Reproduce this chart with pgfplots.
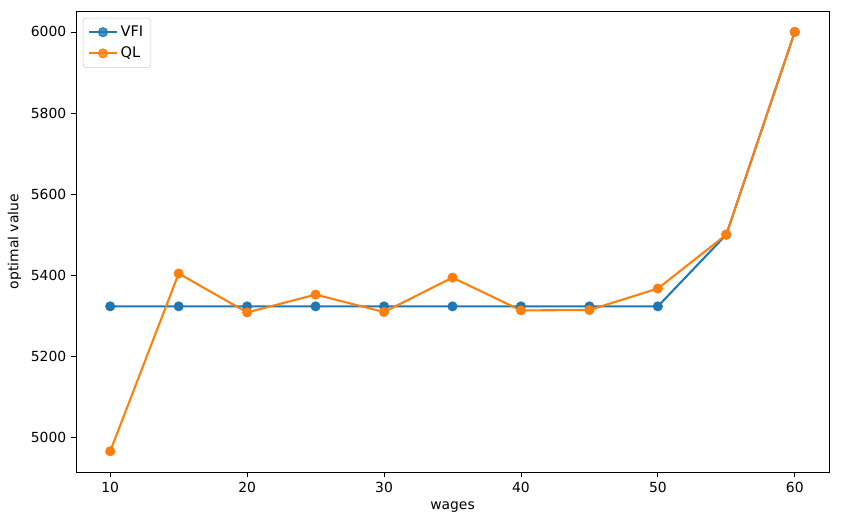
\documentclass[border=0pt]{standalone}
\usepackage{fontspec}
\setmainfont{DejaVu Sans}
\usepackage{pgfplots}
\pgfplotsset{compat=1.18}
\definecolor{tabblue}{HTML}{1F77B4}
\definecolor{taborange}{HTML}{FF7F0E}
\begin{document}
\begin{tikzpicture}
\begin{axis}[
  scale only axis,
  width=542pt, height=332pt,
  xmin=7.5, xmax=62.5,
  ymin=4913.8, ymax=6051.7,
  xtick={10,20,30,40,50,60},
  ytick={5000,5200,5400,5600,5800,6000},
  tick align=outside,
  major tick length=3.5pt,
  tick pos=left,
  tick style={black, line width=0.6pt},
  axis line style={line width=0.6pt},
  /pgf/number format/assume math mode=true,
  /pgf/number format/1000 sep={},
  tick label style={font=\fontsize{10}{12}\selectfont},
  label style={font=\fontsize{10}{12}\selectfont},
  xlabel={wages},
  ylabel={optimal value},
  legend style={at={(0,1)}, anchor=north west, xshift=5pt, yshift=-5pt,
    draw=black!20, rounded corners=2pt, fill=white, fill opacity=0.8, text opacity=1,
    font=\fontsize{10.5}{12}\selectfont, row sep=2pt, inner sep=3.5pt},
  legend cell align=left,
  legend image code/.code={
    \draw[mark repeat=2,mark phase=2] plot coordinates {(0cm,0cm) (0.35cm,0cm) (0.7cm,0cm)};
  },
]
\addplot[tabblue, line width=1.5pt, mark=*, mark size=3.3pt, mark options={solid, line width=0.6pt}] coordinates {
(10,5323) (15,5323) (20,5323) (25,5323) (30,5323) (35,5323) (40,5323) (45,5323) (50,5323) (55,5500) (60,6000)};
\addlegendentry{VFI}
\addplot[taborange, line width=1.5pt, mark=*, mark size=3.3pt, mark options={solid, line width=0.6pt}] coordinates {
(10,4965.5) (15,5404) (20,5308) (25,5352) (30,5309) (35,5394) (40,5313) (45,5314) (50,5367) (55,5500) (60,6000)};
\addlegendentry{QL}
\end{axis}
\path ([shift={(-54.7pt,-38.2pt)}]current axis.south west) rectangle ([shift={(21.6pt,7.9pt)}]current axis.north east);
\end{tikzpicture}
\end{document}
